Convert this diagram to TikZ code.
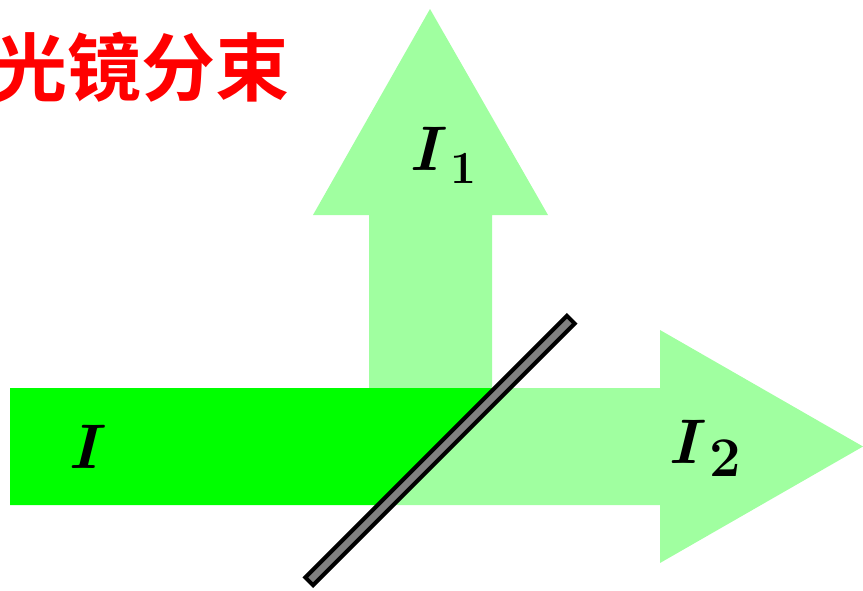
\documentclass[tikz,border=0pt]{standalone}
\usepackage{fontspec}
\newfontfamily\cjk{Noto Sans CJK SC Bold}
\definecolor{beamlight}{RGB}{160,255,160}
\definecolor{beambright}{RGB}{0,255,0}
\definecolor{mirrorgray}{RGB}{128,128,128}
% intensity label: bold italic letter with a bold index below the baseline
\newcommand\intens[3]{\textbf{\textit{#1}}\kern4pt\raisebox{-13pt}{\fontsize{#3}{#3}\selectfont\bfseries #2}}

\begin{document}
\begin{tikzpicture}[x=1pt,y=-1pt,
    beamtext/.style={inner sep=0pt,anchor=base west,font=\fontsize{63}{63}\selectfont},
    mirror/.style={draw=black,line width=4pt,fill=mirrorgray,inner sep=0pt,
        minimum width=370pt,minimum height=11pt}]
    \useasboundingbox (0,0) rectangle (863,590);

    \node[anchor=base west,inner sep=0pt,text=red,font=\cjk\fontsize{74}{74}\selectfont] (title) at (-7,95) {光镜分束};

    % reflected beam
    \fill[beamlight] (369,389) -- (369,215) -- (313,215) -- (430,9) -- (548,215) -- (492,215) -- (492,389) -- cycle;
    % transmitted beam
    \fill[beamlight] (385,388) -- (660,388) -- (660,330) -- (863,446.5) -- (660,563) -- (660,505) -- (385,505) -- cycle;
    % incident beam, up to the mirror
    \fill[beambright] (10,388) -- (503,388) -- (386,505) -- (10,505) -- cycle;

    \node[mirror,rotate=45] (M) at (440,450.5) {};

    \node[beamtext] (I) at (68,468) {\textbf{\textit{I}}};
    \node[beamtext] (I1) at (409,170) {\intens{I}{1}{46}};
    \node[beamtext] (I2) at (668,463) {\intens{I}{2}{56}};
\end{tikzpicture}
\end{document}
